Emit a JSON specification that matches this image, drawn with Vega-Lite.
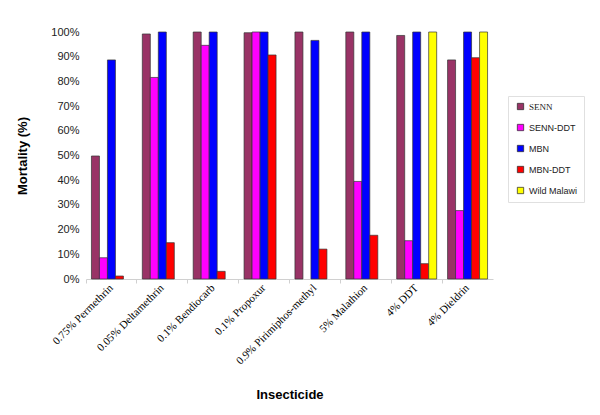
{
  "$schema": "https://vega.github.io/schema/vega-lite/v6.json",
  "width": 407,
  "height": 247,
  "autosize": "none",
  "padding": {"left": 86, "top": 32, "right": 107, "bottom": 136},
  "background": "white",
  "data": {
    "values": [
      {"insecticide": "0.75% Permethrin", "strain": "SENN", "mortality": 49.8},
      {"insecticide": "0.75% Permethrin", "strain": "SENN-DDT", "mortality": 8.6},
      {"insecticide": "0.75% Permethrin", "strain": "MBN", "mortality": 88.7},
      {"insecticide": "0.75% Permethrin", "strain": "MBN-DDT", "mortality": 1.2},
      {"insecticide": "0.05% Deltamethrin", "strain": "SENN", "mortality": 99.2},
      {"insecticide": "0.05% Deltamethrin", "strain": "SENN-DDT", "mortality": 81.6},
      {"insecticide": "0.05% Deltamethrin", "strain": "MBN", "mortality": 100},
      {"insecticide": "0.05% Deltamethrin", "strain": "MBN-DDT", "mortality": 14.7},
      {"insecticide": "0.1% Bendiocarb", "strain": "SENN", "mortality": 100},
      {"insecticide": "0.1% Bendiocarb", "strain": "SENN-DDT", "mortality": 94.6},
      {"insecticide": "0.1% Bendiocarb", "strain": "MBN", "mortality": 100},
      {"insecticide": "0.1% Bendiocarb", "strain": "MBN-DDT", "mortality": 3.1},
      {"insecticide": "0.1% Propoxur", "strain": "SENN", "mortality": 99.7},
      {"insecticide": "0.1% Propoxur", "strain": "SENN-DDT", "mortality": 100},
      {"insecticide": "0.1% Propoxur", "strain": "MBN", "mortality": 100},
      {"insecticide": "0.1% Propoxur", "strain": "MBN-DDT", "mortality": 90.7},
      {"insecticide": "0.9% Pirimiphos-methyl", "strain": "SENN", "mortality": 100},
      {"insecticide": "0.9% Pirimiphos-methyl", "strain": "MBN", "mortality": 96.6},
      {"insecticide": "0.9% Pirimiphos-methyl", "strain": "MBN-DDT", "mortality": 12.1},
      {"insecticide": "5% Malathion", "strain": "SENN", "mortality": 100},
      {"insecticide": "5% Malathion", "strain": "SENN-DDT", "mortality": 39.5},
      {"insecticide": "5% Malathion", "strain": "MBN", "mortality": 100},
      {"insecticide": "5% Malathion", "strain": "MBN-DDT", "mortality": 17.7},
      {"insecticide": "4% DDT", "strain": "SENN", "mortality": 98.6},
      {"insecticide": "4% DDT", "strain": "SENN-DDT", "mortality": 15.5},
      {"insecticide": "4% DDT", "strain": "MBN", "mortality": 100},
      {"insecticide": "4% DDT", "strain": "MBN-DDT", "mortality": 6.2},
      {"insecticide": "4% DDT", "strain": "Wild Malawi", "mortality": 100},
      {"insecticide": "4% Dieldrin", "strain": "SENN", "mortality": 88.7},
      {"insecticide": "4% Dieldrin", "strain": "SENN-DDT", "mortality": 27.7},
      {"insecticide": "4% Dieldrin", "strain": "MBN", "mortality": 100},
      {"insecticide": "4% Dieldrin", "strain": "MBN-DDT", "mortality": 89.6},
      {"insecticide": "4% Dieldrin", "strain": "Wild Malawi", "mortality": 100}
    ]
  },
  "mark": {"type": "bar", "stroke": "#333333", "strokeWidth": 0.7},
  "encoding": {
    "x": {
      "field": "insecticide",
      "type": "nominal",
      "sort": null,
      "scale": {"paddingInner": 0, "paddingOuter": 0},
      "axis": {
        "title": "Insecticide",
        "titleFont": "Liberation Sans",
        "titleFontSize": 13,
        "titleFontWeight": "bold",
        "titleColor": "black",
        "titleY": 109,
        "titleBaseline": "top",
        "bandPosition": 0,
        "labelAngle": -45,
        "labelAlign": "right",
        "labelBaseline": "middle",
        "labelFont": "Liberation Serif",
        "labelFontSize": 11,
        "labelColor": "black",
        "labelPadding": 3,
        "domainColor": "#d0d0d0",
        "tickColor": "#d0d0d0",
        "tickSize": 4
      }
    },
    "xOffset": {
      "field": "strain",
      "type": "nominal",
      "sort": ["SENN", "SENN-DDT", "MBN", "MBN-DDT", "Wild Malawi"],
      "scale": {"paddingInner": 0, "paddingOuter": 0.68}
    },
    "y": {
      "field": "mortality",
      "type": "quantitative",
      "scale": {"domain": [0, 100], "nice": false},
      "axis": {
        "title": "Mortality (%)",
        "titleFont": "Liberation Sans",
        "titleFontSize": 13,
        "titleFontWeight": "bold",
        "titleColor": "black",
        "titleX": -64,
        "titleBaseline": "middle",
        "values": [0, 10, 20, 30, 40, 50, 60, 70, 80, 90, 100],
        "labelExpr": "datum.value + '%'",
        "labelFont": "Liberation Sans",
        "labelFontSize": 11,
        "labelColor": "#222222",
        "labelPadding": 7,
        "ticks": false,
        "domain": false,
        "grid": false
      }
    },
    "fill": {
      "field": "strain",
      "type": "nominal",
      "sort": ["SENN", "SENN-DDT", "MBN", "MBN-DDT", "Wild Malawi"],
      "scale": {
        "domain": ["SENN", "SENN-DDT", "MBN", "MBN-DDT", "Wild Malawi"],
        "range": ["#993366", "#FF00FF", "#0000FF", "#FF0000", "#FFFF00"]
      },
      "legend": {
        "title": null,
        "orient": "none",
        "legendX": 422,
        "legendY": 64,
        "symbolType": "square",
        "symbolSize": 40,
        "symbolStrokeColor": "#222222",
        "symbolStrokeWidth": 0.7,
        "symbolOffset": 2,
        "labelOffset": 4,
        "labelFont": "Liberation Sans",
        "labelFontSize": 9,
        "labelColor": "#222222",
        "rowPadding": 10,
        "padding": 6,
        "strokeColor": "#e0e0e0",
        "fillColor": "white",
        "encode": {
          "labels": {
            "update": {
              "font": {"signal": "datum.value === 'SENN' ? 'Liberation Serif' : 'Liberation Sans'"}
            }
          }
        }
      }
    }
  },
  "config": {"view": {"stroke": null}}
}
